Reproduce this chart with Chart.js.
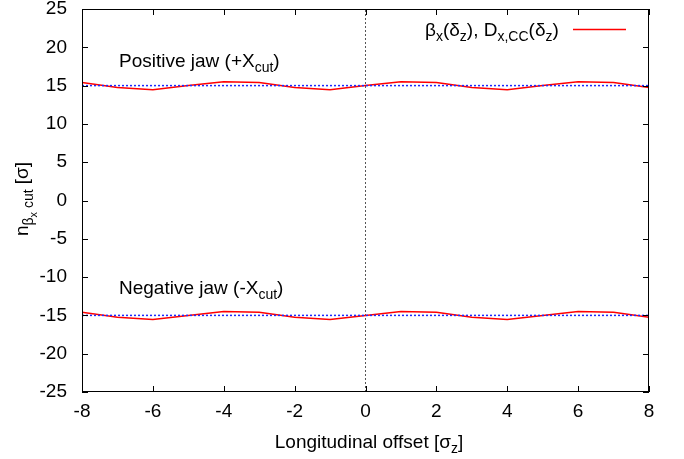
<!DOCTYPE html>
<html>
<head>
<meta charset="UTF-8">
<title>Collimator cut vs longitudinal offset</title>
<script src="https://cdn.jsdelivr.net/npm/chart.js"></script>
<style>
    * { margin: 0; padding: 0; }
    body { background: #fff; overflow: hidden; }
    .wrap { position: relative; width: 684px; height: 459px; }
</style>
</head>
<body>
<div class="wrap"><canvas id="cutChart" width="684" height="459"></canvas></div>
<script>
// data
const offsets = [-8, -7, -6, -5, -4, -3, -2, -1, 0, 1, 2, 3, 4, 5, 6, 7, 8];
const posJaw = [15.4, 14.75, 14.45, 15.0, 15.5, 15.4, 14.75, 14.45, 15.0, 15.5, 15.4, 14.75, 14.45, 15.0, 15.5, 15.4, 14.75];
const negJaw = [-14.6, -15.25, -15.55, -15.0, -14.5, -14.6, -15.25, -15.55, -15.0, -14.5, -14.6, -15.25, -15.55, -15.0, -14.5, -14.6, -15.25];
const nomX = [-8, 8];
const nomPos = [15, 15];
const nomNeg = [-15, -15];
const zeroX = [0, 0];
const zeroY = [-25, 25];

const FONT = '"Liberation Sans", Arial, sans-serif';
const SIZES = [19, 14, 11];
const SHIFT = [0, 5, 9];

const pts = (xs, ys) => xs.map((x, i) => ({ x: x, y: ys[i] }));

// draws text with subscript levels: parts = [[text, level], ...]
function richWidth(ctx, parts) {
    let w = 0;
    parts.forEach(p => {
        ctx.font = SIZES[p[1]] + 'px ' + FONT;
        w += ctx.measureText(p[0]).width;
    });
    return w;
}
function drawRich(ctx, parts, x, y, align) {
    let cx = x;
    if (align === 'center') cx = x - richWidth(ctx, parts) / 2;
    if (align === 'right') cx = x - richWidth(ctx, parts);
    ctx.textAlign = 'left';
    ctx.textBaseline = 'alphabetic';
    parts.forEach(p => {
        ctx.font = SIZES[p[1]] + 'px ' + FONT;
        ctx.fillText(p[0], cx, y + SHIFT[p[1]]);
        cx += ctx.measureText(p[0]).width;
    });
}

const framePlugin = {
    id: 'frame',
    afterDraw(chart) {
        const ctx = chart.ctx;
        const a = chart.chartArea;
        const xs = chart.scales.x, ys = chart.scales.y;
        ctx.save();
        ctx.strokeStyle = '#000';
        ctx.lineWidth = 1;
        ctx.strokeRect(a.left + 0.5, a.top + 0.5, a.right - a.left - 1, a.bottom - a.top - 1);
        ctx.beginPath();
        xs.ticks.forEach(t => {
            const px = Math.round(xs.getPixelForValue(t.value)) + 0.5;
            ctx.moveTo(px, a.bottom); ctx.lineTo(px, a.bottom - 6);
            ctx.moveTo(px, a.top); ctx.lineTo(px, a.top + 6);
        });
        ys.ticks.forEach(t => {
            const py = Math.round(ys.getPixelForValue(t.value)) + 0.5;
            ctx.moveTo(a.left, py); ctx.lineTo(a.left + 6, py);
            ctx.moveTo(a.right, py); ctx.lineTo(a.right - 6, py);
        });
        ctx.stroke();

        ctx.fillStyle = '#000';
        // labels inside the plot
        drawRich(ctx, [['Positive jaw (+X', 0], ['cut', 1], [')', 0]], 119, 67, 'left');
        drawRich(ctx, [['Negative jaw (-X', 0], ['cut', 1], [')', 0]], 119, 294, 'left');

        // legend
        drawRich(ctx, [['β', 0], ['x', 1], ['(δ', 0], ['z', 1], ['), D', 0], ['x,CC', 1], ['(δ', 0], ['z', 1], [')', 0]], 425, 36, 'left');
        ctx.strokeStyle = '#ff0000';
        ctx.lineWidth = 1.5;
        ctx.beginPath();
        ctx.moveTo(573, 29.5); ctx.lineTo(626, 29.5);
        ctx.stroke();

        // axis titles
        drawRich(ctx, [['Longitudinal offset [σ', 0], ['z', 1], [']', 0]], 369, 448, 'center');
        ctx.translate(28, 199);
        ctx.rotate(-Math.PI / 2);
        drawRich(ctx, [['n', 0], ['β', 1], ['x', 2], [' cut', 1], [' [σ]', 0]], 0, 0, 'center');
        ctx.restore();
    }
};

new Chart(document.getElementById('cutChart'), {
    type: 'line',
    data: {
        datasets: [
            { data: pts(nomX, nomPos), borderColor: 'rgb(30,40,255)', borderWidth: 1.5, borderDash: [2, 2], pointRadius: 0 },
            { data: pts(nomX, nomNeg), borderColor: 'rgb(30,40,255)', borderWidth: 1.5, borderDash: [2, 2], pointRadius: 0 },
            { data: pts(offsets, posJaw), borderColor: '#ff0000', borderWidth: 1.5, pointRadius: 0, tension: 0 },
            { data: pts(offsets, negJaw), borderColor: '#ff0000', borderWidth: 1.5, pointRadius: 0, tension: 0 },
            { data: pts(zeroX, zeroY), borderColor: '#555', borderWidth: 1, borderDash: [2, 2], pointRadius: 0 }
        ]
    },
    options: {
        responsive: false,
        animation: false,
        layout: { padding: { left: 0, right: 35, top: 9, bottom: 0 } },
        plugins: { legend: { display: false }, tooltip: { enabled: false } },
        scales: {
            x: {
                type: 'linear', min: -8, max: 8,
                grid: { display: false }, border: { display: false },
                ticks: { stepSize: 2, color: '#000', padding: 0, maxRotation: 0, font: { family: FONT, size: 19 } },
                afterFit(s) { s.height = 67; s.paddingLeft = 0; s.paddingRight = 0; }
            },
            y: {
                min: -25, max: 25,
                grid: { display: false }, border: { display: false },
                ticks: { stepSize: 5, color: '#000', padding: 7, font: { family: FONT, size: 19 } },
                afterFit(s) { s.width = 82; s.paddingTop = 0; s.paddingBottom = 0; }
            }
        }
    },
    plugins: [framePlugin]
});
</script>
</body>
</html>
